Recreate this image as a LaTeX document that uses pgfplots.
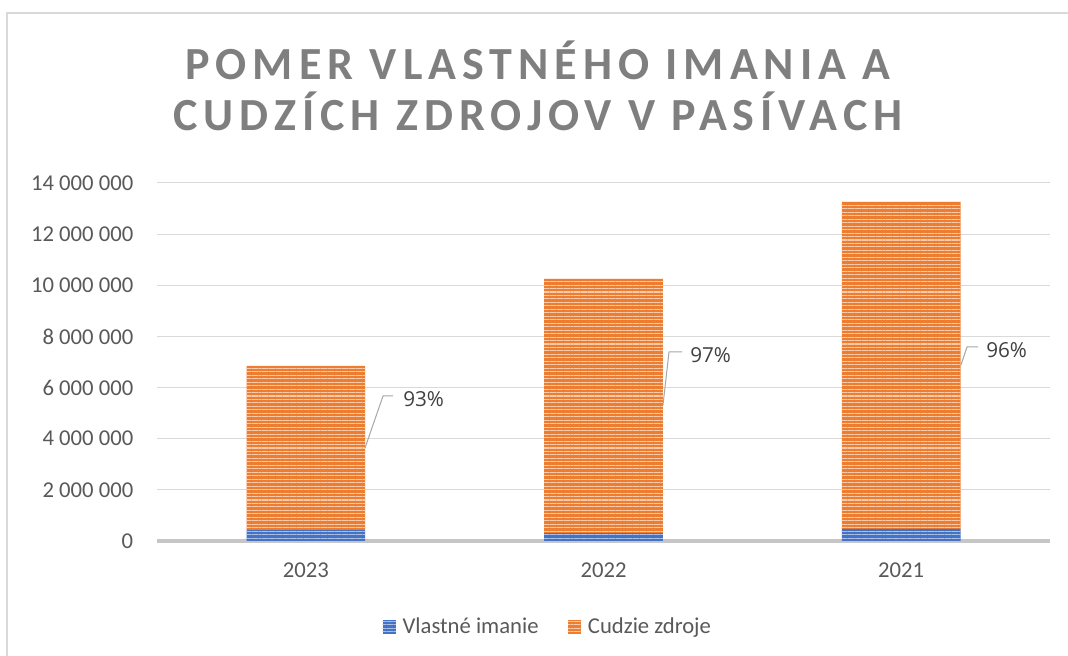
\documentclass[border=0pt]{standalone}
\usepackage{pgfplots}
\pgfplotsset{compat=1.18}
\usepackage{fontspec}
\setmainfont{Carlito}
\newfontfamily\labelfont{Open Sans}
\newfontfamily\titlefont[LetterSpace=13]{Carlito}
\usetikzlibrary{patterns.meta}

\definecolor{vlast}{HTML}{4472C4}
\definecolor{cudz}{HTML}{ED7D31}
\definecolor{gridgray}{HTML}{D9D9D9}
\definecolor{axisgray}{HTML}{C6C6C6}
\definecolor{textgray}{HTML}{595959}
\definecolor{titlegray}{HTML}{7F7F7F}
\definecolor{labelgray}{HTML}{404040}
\definecolor{leadgray}{HTML}{A6A6A6}

% values (EUR)
\pgfplotstableread{
x vlastne cudzie
0 450000  6400000
1 310000  9940000
2 470000  12790000
}\datatable

\begin{document}
\begin{tikzpicture}
\useasboundingbox (0,0) rectangle (801pt,492pt);
% outer chart frame (only left and top edge are visible)
\draw[gridgray, line width=1.5pt] (5.25pt,-5pt) -- (5.25pt,482.25pt) -- (810pt,482.25pt);

\begin{axis}[
  at={(117.75pt,86.25pt)}, anchor=south west,
  scale only axis, width=669.75pt, height=268.5pt,
  ybar stacked, bar width=89pt,
  xmin=-0.5, xmax=2.5, ymin=0, ymax=14000000,
  xtick={0,1,2}, xticklabels={2023,2022,2021},
  ytick={0,2000000,...,14000000},
  scaled y ticks=false,
  /pgf/number format/assume math mode=true,
  /pgf/number format/fixed,
  /pgf/number format/1000 sep={\ },
  tick label style={font=\fontsize{17}{20}\selectfont, text=textgray},
  xticklabel style={yshift=-12.5pt},
  yticklabel style={xshift=-14.3pt},
  major tick length=0pt,
  ymajorgrids, grid style={gridgray, line width=0.75pt},
  axis x line*=bottom, axis y line*=left,
  y axis line style={draw=none},
  x axis line style={draw=axisgray, line width=2.5pt, -},
  legend columns=2,
  legend style={at={(0.438,-0.240)}, anchor=center, draw=none,
    font=\fontsize{17}{20}\selectfont, text=textgray,
    /tikz/every odd column/.append style={column sep=3pt},
    /tikz/every even column/.append style={column sep=20pt}},
  legend image code/.code={\draw[#1,draw=none] (0pt,-5pt) rectangle (10pt,5pt);},
]
\addplot[fill=vlast, draw=none,
  postaction={pattern={Lines[angle=0,distance=2.6pt,line width=0.8pt]}, pattern color=vlast!45!white}]
  table[x=x, y=vlastne]{\datatable};
\addplot[fill=cudz, draw=none,
  postaction={pattern={Lines[angle=0,distance=2.6pt,line width=0.8pt]}, pattern color=cudz!40!white}]
  table[x=x, y=cudzie]{\datatable};
\legend{Vlastné imanie, Cudzie zdroje}
\end{axis}

% data labels with leader lines (share of Cudzie zdroje)
\draw[leadgray, line width=0.75pt] (273.75pt,156pt) -- (287.25pt,195pt) -- (294.75pt,195pt);
\node[anchor=west, inner sep=0pt, font=\labelfont\fontsize{15.5}{18}\selectfont, text=labelgray] at (302.25pt,192.75pt) {93\%};
\draw[leadgray, line width=0.75pt] (497.25pt,188.25pt) -- (501.75pt,228pt) -- (511.5pt,228pt);
\node[anchor=west, inner sep=0pt, font=\labelfont\fontsize{15.5}{18}\selectfont, text=labelgray] at (517.5pt,225.75pt) {97\%};
\draw[leadgray, line width=0.75pt] (720.75pt,218.25pt) -- (725.25pt,231.75pt) -- (733.5pt,231.75pt);
\node[anchor=west, inner sep=0pt, font=\labelfont\fontsize{15.5}{18}\selectfont, text=labelgray] at (739.5pt,229.5pt) {96\%};

% title
\node[anchor=base, font=\titlefont\bfseries\fontsize{34.5}{40}\selectfont, text=titlegray] at (403.5pt,432pt) {POMER VLASTNÉHO IMANIA A};
\node[anchor=base, font=\titlefont\bfseries\fontsize{34.5}{40}\selectfont, text=titlegray] at (403.5pt,393.75pt) {CUDZÍCH ZDROJOV V PASÍVACH};
\end{tikzpicture}
\end{document}
